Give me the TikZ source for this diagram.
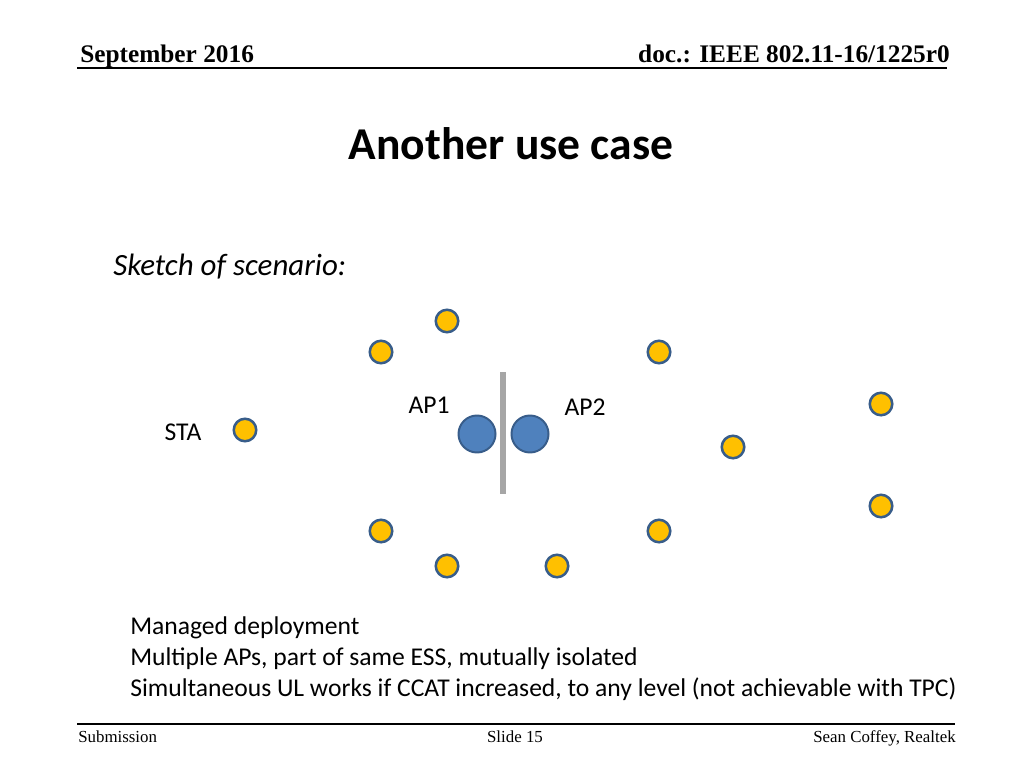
\documentclass[tikz,border=0pt]{standalone}
\usepackage{fontspec}
\setmainfont{Carlito}
\newfontfamily\timesfont{Liberation Serif}
\usepackage{tikz}
\usetikzlibrary{positioning}

\definecolor{stagold}{HTML}{FFC000}
\definecolor{apblue}{HTML}{4F81BD}
\definecolor{rimblue}{HTML}{385D8A}
\definecolor{wallgray}{HTML}{A6A6A6}

\tikzset{
  station/.style={circle, draw=rimblue, fill=stagold, line width=1.8pt, minimum size=0.5625cm, inner sep=0pt},
  accesspt/.style={circle, draw=rimblue, fill=apblue, line width=1.4pt, minimum size=0.925cm, inner sep=0pt},
  lbl/.style={font=\fontsize{18.2}{22}\selectfont, inner sep=0pt, anchor=base},
  hdr/.style={font=\timesfont\bfseries\fontsize{18}{22}\selectfont, inner sep=0pt},
  ftr/.style={font=\timesfont\fontsize{12}{14}\selectfont, inner sep=0pt}
}

\begin{document}
\begin{tikzpicture}[x=0.025cm, y=-0.025cm]
\path[fill=white, use as bounding box] (0,0) rectangle (1024,768);

% header and footer
\node (date) [hdr, anchor=base west] at (80,63) {September 2016};
\node (doc) [hdr, anchor=base east] at (950,63) {doc.: IEEE 802.11-16/1225r0};
\draw[line width=1.4pt] (77,68) -- (947,68);
\draw[line width=1.4pt] (77,724) -- (955,724);
\node (sub) [ftr, anchor=base west] at (78,742) {Submission};
\node (slide) [ftr, anchor=base] at (515,742) {Slide 15};
\node (auth) [ftr, anchor=base east] at (956,742) {Sean Coffey, Realtek};

% title
\node (title) [inner sep=0pt, anchor=base, font=\bfseries\fontsize{32.4}{38}\selectfont] at (511,159) {Another use case};
\node (sketch) [inner sep=0pt, anchor=base west, font=\itshape\fontsize{22}{26}\selectfont] at (113,275) {Sketch of scenario:};

% wall between the two APs
\draw[wallgray, line width=3.6pt] (503,372) -- (503,494);

% access points
\node (ap1) [accesspt] at (477,434) {};
\node (ap2) [accesspt] at (530,434) {};
\node (ap1lbl) [lbl] at (429,413) {AP1};
\node (ap2lbl) [lbl] at (585,415) {AP2};

% stations
\node (sta) [station] at (245,430) {};
\node (stalbl) [lbl] at (183,440) {STA};
\node (s1) [station] at (447,321) {};
\node (s2) [station] at (381,352) {};
\node (s3) [station] at (659,352) {};
\node (s4) [station] at (881,404) {};
\node (s5) [station] at (733,447) {};
\node (s6) [station] at (881,506) {};
\node (s7) [station] at (381,531) {};
\node (s8) [station] at (659,531) {};
\node (s9) [station] at (447,566) {};
\node (s10) [station] at (557,566) {};

% notes
\node (l1) [lbl, anchor=base west] at (130,634) {Managed deployment};
\node (l2) [lbl, anchor=base west] at (130,665) {Multiple APs, part of same ESS, mutually isolated};
\node (l3) [lbl, anchor=base west] at (130,696) {Simultaneous UL works if CCAT increased, to any level (not achievable with TPC)};
\end{tikzpicture}
\end{document}
